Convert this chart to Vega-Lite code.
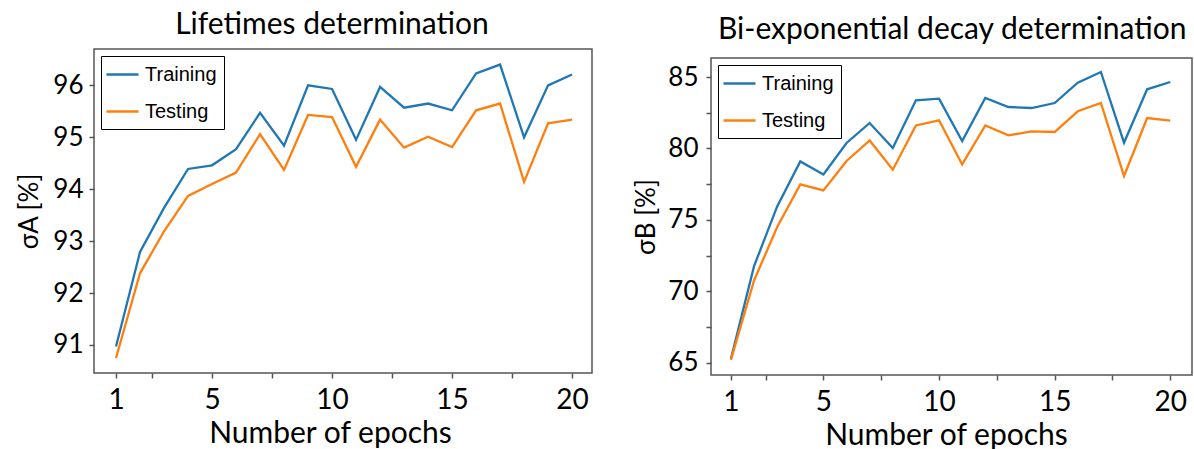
{
  "$schema": "https://vega.github.io/schema/vega-lite/v6.json",
  "background": "white",
  "padding": {"left": 16, "top": 9, "right": 0, "bottom": 0},
  "config": {
    "font": "Lato",
    "view": {"stroke": "#555", "strokeWidth": 1.5},
    "axis": {"grid": false, "domain": false, "tickColor": "#555", "tickWidth": 1.5, "tickSize": 5, "labelColor": "#000", "titleColor": "#000", "titleFontWeight": "normal", "labelFlush": false, "labelOverlap": false, "labelFont": "Lato", "titleFont": "Lato"},
    "title": {"fontSize": 30, "fontWeight": "normal", "color": "#000", "font": "Lato", "anchor": "middle", "frame": "group"},
    "legend": {"labelFont": "Liberation Sans", "labelFontSize": 20, "labelColor": "#000", "symbolType": "M-1.6,0H1.6", "symbolStrokeWidth": 2.5, "symbolSize": 400, "symbolOffset": 3, "strokeColor": "#000", "fillColor": "#fff", "padding": 7, "rowPadding": 15, "cornerRadius": 0, "labelOffset": 11, "orient": "top-left", "offset": 7, "title": null}
  },
  "datasets": {
    "A": [
      {"epoch": 1, "series": "Training", "value": 90.97}, {"epoch": 2, "series": "Training", "value": 92.79}, {"epoch": 3, "series": "Training", "value": 93.64}, {"epoch": 4, "series": "Training", "value": 94.39}, {"epoch": 5, "series": "Training", "value": 94.46}, {"epoch": 6, "series": "Training", "value": 94.77}, {"epoch": 7, "series": "Training", "value": 95.47}, {"epoch": 8, "series": "Training", "value": 94.84}, {"epoch": 9, "series": "Training", "value": 96.0}, {"epoch": 10, "series": "Training", "value": 95.93}, {"epoch": 11, "series": "Training", "value": 94.95}, {"epoch": 12, "series": "Training", "value": 95.97}, {"epoch": 13, "series": "Training", "value": 95.57}, {"epoch": 14, "series": "Training", "value": 95.65}, {"epoch": 15, "series": "Training", "value": 95.52}, {"epoch": 16, "series": "Training", "value": 96.23}, {"epoch": 17, "series": "Training", "value": 96.4}, {"epoch": 18, "series": "Training", "value": 95.0}, {"epoch": 19, "series": "Training", "value": 96.0}, {"epoch": 20, "series": "Training", "value": 96.21},
      {"epoch": 1, "series": "Testing", "value": 90.75}, {"epoch": 2, "series": "Testing", "value": 92.38}, {"epoch": 3, "series": "Testing", "value": 93.19}, {"epoch": 4, "series": "Testing", "value": 93.87}, {"epoch": 5, "series": "Testing", "value": 94.1}, {"epoch": 6, "series": "Testing", "value": 94.32}, {"epoch": 7, "series": "Testing", "value": 95.06}, {"epoch": 8, "series": "Testing", "value": 94.37}, {"epoch": 9, "series": "Testing", "value": 95.43}, {"epoch": 10, "series": "Testing", "value": 95.39}, {"epoch": 11, "series": "Testing", "value": 94.43}, {"epoch": 12, "series": "Testing", "value": 95.34}, {"epoch": 13, "series": "Testing", "value": 94.8}, {"epoch": 14, "series": "Testing", "value": 95.01}, {"epoch": 15, "series": "Testing", "value": 94.81}, {"epoch": 16, "series": "Testing", "value": 95.52}, {"epoch": 17, "series": "Testing", "value": 95.65}, {"epoch": 18, "series": "Testing", "value": 94.14}, {"epoch": 19, "series": "Testing", "value": 95.27}, {"epoch": 20, "series": "Testing", "value": 95.34}
    ],
    "B": [
      {"epoch": 1, "series": "Training", "value": 65.27}, {"epoch": 2, "series": "Training", "value": 71.76}, {"epoch": 3, "series": "Training", "value": 75.94}, {"epoch": 4, "series": "Training", "value": 79.09}, {"epoch": 5, "series": "Training", "value": 78.18}, {"epoch": 6, "series": "Training", "value": 80.38}, {"epoch": 7, "series": "Training", "value": 81.78}, {"epoch": 8, "series": "Training", "value": 80.03}, {"epoch": 9, "series": "Training", "value": 83.37}, {"epoch": 10, "series": "Training", "value": 83.48}, {"epoch": 11, "series": "Training", "value": 80.52}, {"epoch": 12, "series": "Training", "value": 83.53}, {"epoch": 13, "series": "Training", "value": 82.9}, {"epoch": 14, "series": "Training", "value": 82.83}, {"epoch": 15, "series": "Training", "value": 83.18}, {"epoch": 16, "series": "Training", "value": 84.6}, {"epoch": 17, "series": "Training", "value": 85.35}, {"epoch": 18, "series": "Training", "value": 80.4}, {"epoch": 19, "series": "Training", "value": 84.14}, {"epoch": 20, "series": "Training", "value": 84.65},
      {"epoch": 1, "series": "Testing", "value": 65.2}, {"epoch": 2, "series": "Testing", "value": 70.76}, {"epoch": 3, "series": "Testing", "value": 74.5}, {"epoch": 4, "series": "Testing", "value": 77.48}, {"epoch": 5, "series": "Testing", "value": 77.06}, {"epoch": 6, "series": "Testing", "value": 79.12}, {"epoch": 7, "series": "Testing", "value": 80.56}, {"epoch": 8, "series": "Testing", "value": 78.51}, {"epoch": 9, "series": "Testing", "value": 81.61}, {"epoch": 10, "series": "Testing", "value": 81.97}, {"epoch": 11, "series": "Testing", "value": 78.88}, {"epoch": 12, "series": "Testing", "value": 81.61}, {"epoch": 13, "series": "Testing", "value": 80.91}, {"epoch": 14, "series": "Testing", "value": 81.19}, {"epoch": 15, "series": "Testing", "value": 81.15}, {"epoch": 16, "series": "Testing", "value": 82.6}, {"epoch": 17, "series": "Testing", "value": 83.18}, {"epoch": 18, "series": "Testing", "value": 78.07}, {"epoch": 19, "series": "Testing", "value": 82.13}, {"epoch": 20, "series": "Testing", "value": 81.94}
    ]
  },
  "spacing": 40,
  "hconcat": [
    {
      "width": 498,
      "height": 324,
      "title": {"text": "Lifetimes determination", "dx": -11, "offset": 9},
      "data": {"name": "A"},
      "mark": {"type": "line", "strokeWidth": 2.3},
      "encoding": {
        "x": {"field": "epoch", "type": "quantitative", "scale": {"domain": [0.083, 20.83], "nice": false, "zero": false},
          "axis": {"values": [1, 2.5, 5, 7.5, 10, 12.5, 15, 17.5, 20], "labelExpr": "datum.value % 5 === 0 || datum.value === 1 ? datum.label : ''", "title": "Number of epochs", "titleX": 236, "labelFontSize": 28, "titleFontSize": 30, "labelPadding": 8, "titlePadding": 4,
            "encode": {"ticks": {"update": {"y2": {"signal": "datum.value % 5 === 0 || datum.value === 1 ? 5 : 2.5"}}}}}},
        "y": {"field": "value", "type": "quantitative", "scale": {"domain": [90.46, 96.7], "nice": false, "zero": false},
          "axis": {"values": [91, 92, 93, 94, 95, 96], "title": "σA [%]", "labelFontSize": 26, "titleFontSize": 26, "labelPadding": 6, "titlePadding": 10}},
        "color": {"field": "series", "type": "nominal", "scale": {"domain": ["Training", "Testing"], "range": ["#1f77b4", "#ff7f0e"]}, "legend": {"title": null, "orient": "top-left", "offset": 7}}
      }
    },
    {
      "title": {"text": "Bi-exponential decay determination", "anchor": "start", "frame": "group", "dx": 7, "offset": 9, "dy": 5},
      "spacing": 0,
      "vconcat": [
        {
          "width": 481,
          "height": 8,
          "view": {"stroke": null},
          "data": {"values": []},
          "mark": {"type": "point", "opacity": 0},
          "encoding": {}
        },
        {
          "width": 481,
          "height": 317,
          "data": {"name": "B"},
          "mark": {"type": "line", "strokeWidth": 2.3},
          "encoding": {
            "x": {"field": "epoch", "type": "quantitative", "scale": {"domain": [0.138, 20.94], "nice": false, "zero": false},
              "axis": {"values": [1, 2.5, 5, 7.5, 10, 12.5, 15, 17.5, 20], "labelExpr": "datum.value % 5 === 0 || datum.value === 1 ? datum.label : ''", "title": "Number of epochs", "titleX": 235, "labelFontSize": 28, "titleFontSize": 30, "labelPadding": 8, "titlePadding": 4,
                "encode": {"ticks": {"update": {"y2": {"signal": "datum.value % 5 === 0 || datum.value === 1 ? 5 : 2.5"}}}}}},
            "y": {"field": "value", "type": "quantitative", "scale": {"domain": [64.14, 86.33], "nice": false, "zero": false},
              "axis": {"values": [65, 67.5, 70, 72.5, 75, 77.5, 80, 82.5, 85], "labelExpr": "datum.value % 5 === 0 ? datum.label : ''", "title": "σB [%]", "labelFontSize": 26, "titleFontSize": 26, "labelPadding": 8, "titlePadding": 8,
                "encode": {"ticks": {"update": {"x2": {"signal": "datum.value % 5 === 0 ? -5 : -2.5"}}}}}},
            "color": {"field": "series", "type": "nominal", "scale": {"domain": ["Training", "Testing"], "range": ["#1f77b4", "#ff7f0e"]}, "legend": {"title": null, "orient": "top-left", "offset": 7}}
          }
        }
      ],
      "resolve": {"legend": {"color": "independent"}}
    }
  ],
  "resolve": {"legend": {"color": "independent"}}
}
